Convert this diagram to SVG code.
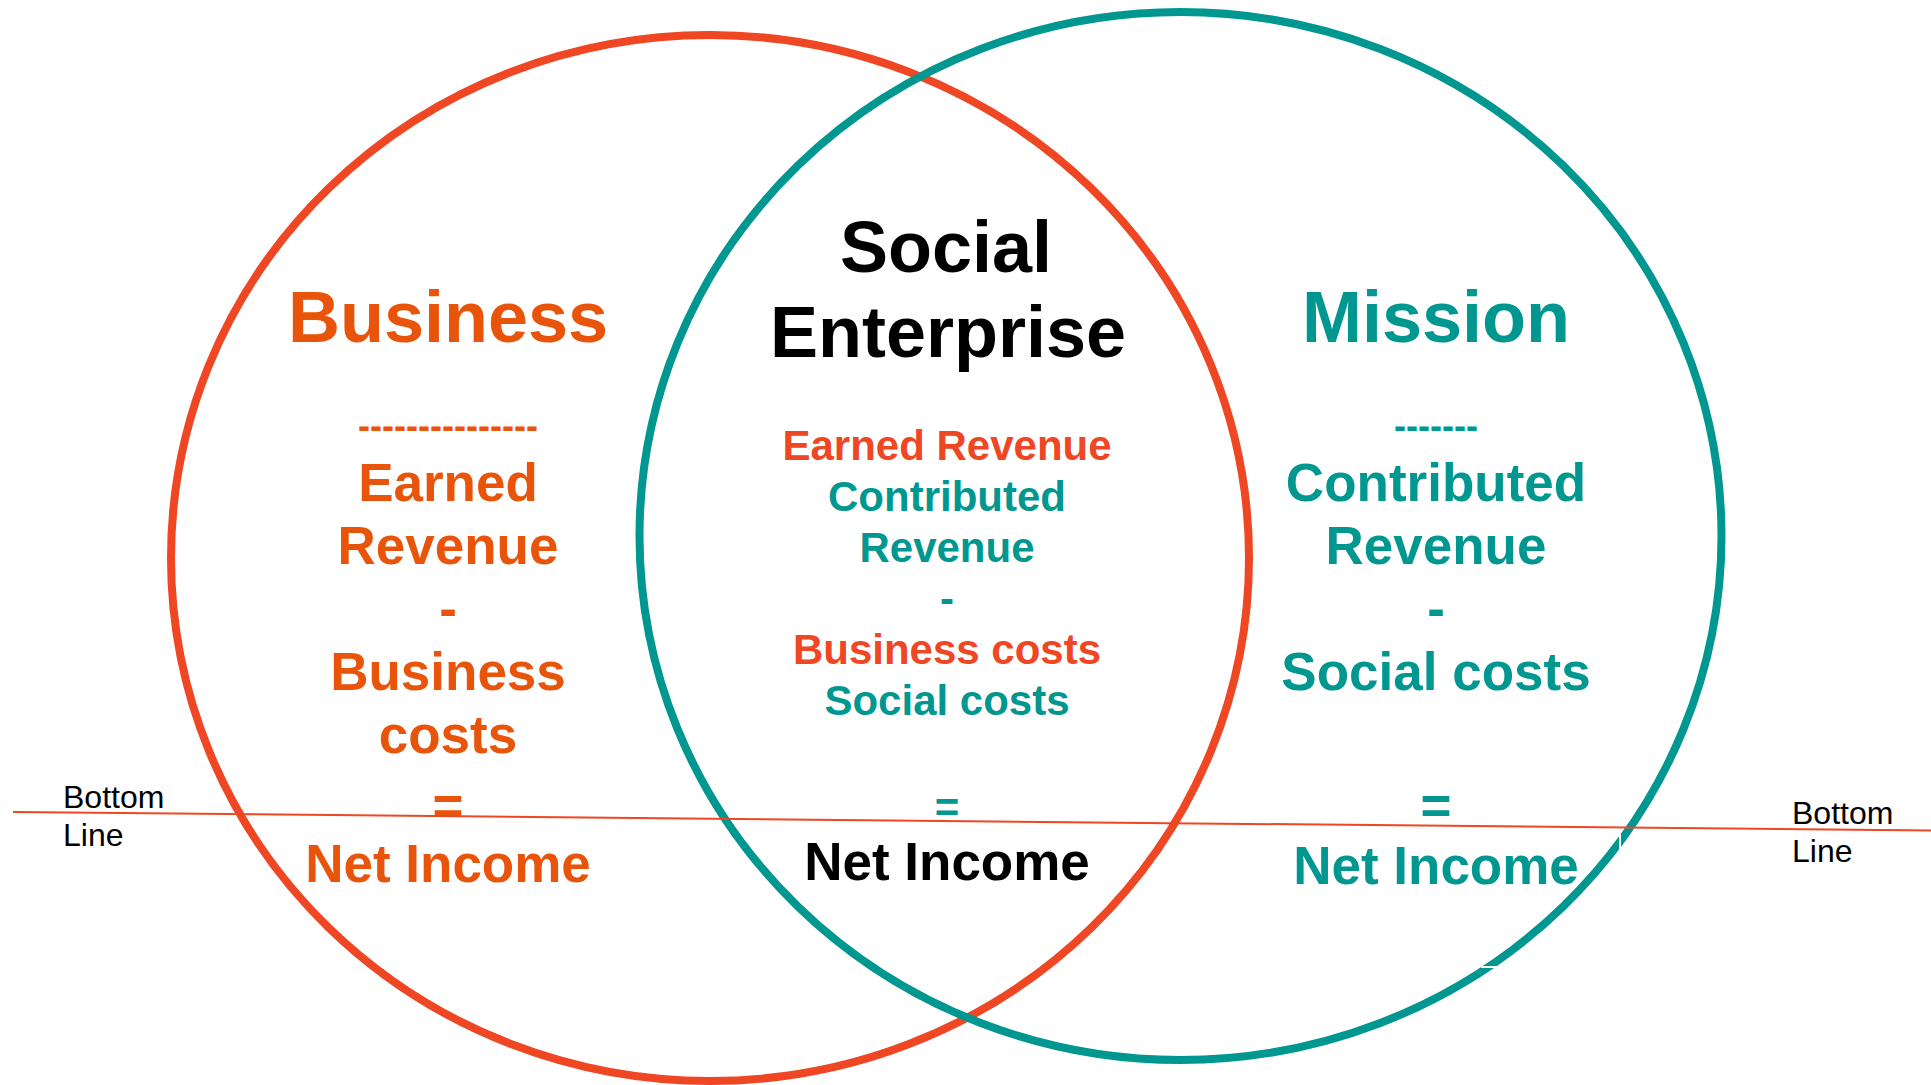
<svg xmlns="http://www.w3.org/2000/svg" width="1931" height="1085" viewBox="0 0 1931 1085">
  <style>
    text { font-family: "Liberation Sans", Arial, sans-serif; text-anchor: middle; }
    .title { font-size: 72px; font-weight: bold; }
    .big { font-size: 53px; font-weight: bold; }
    .mid { font-size: 42px; font-weight: bold; }
    .dash { font-size: 36px; font-weight: bold; }
    .note { font-size: 32px; text-anchor: start; fill: #000; }
    .orange { fill: #E8540A; }
    .red { fill: #EF4623; }
    .teal { fill: #009790; }
    .black { fill: #000; }
    .ring { fill: none; stroke-width: 8; }
  </style>
  <rect width="1931" height="1085" fill="#fff"/>

  <!-- Business circle and its equation -->
  <g id="business">
    <ellipse class="ring" cx="710" cy="558" rx="539" ry="523" stroke="#EF4623"/>
    <text class="title orange" x="448" y="342">Business</text>
    <text class="dash orange" x="448" y="438">---------------</text>
    <text class="big orange" x="448" y="501">Earned</text>
    <text class="big orange" x="448" y="564">Revenue</text>
    <text class="big orange" x="448" y="627">-</text>
    <text class="big orange" x="448" y="690">Business</text>
    <text class="big orange" x="448" y="753">costs</text>
    <text class="big orange" x="448" y="824">=</text>
    <text class="big orange" x="448" y="882">Net Income</text>
  </g>

  <!-- Mission circle and its equation -->
  <g id="mission">
    <ellipse class="ring" cx="1180.5" cy="536" rx="541" ry="524" stroke="#009790"/>
    <!-- small breaks in the ring -->
    <line x1="1620" y1="834" x2="1620" y2="850" stroke="#fff" stroke-width="2"/>
    <line x1="1481" y1="967" x2="1497" y2="967" stroke="#fff" stroke-width="2"/>
    <text class="title teal" x="1436" y="342">Mission</text>
    <text class="dash teal" x="1436" y="438">-------</text>
    <text class="big teal" x="1436" y="501">Contributed</text>
    <text class="big teal" x="1436" y="564">Revenue</text>
    <text class="big teal" x="1436" y="627">-</text>
    <text class="big teal" x="1436" y="690">Social costs</text>
    <text class="big teal" x="1436" y="824">=</text>
    <text class="big teal" x="1436" y="884">Net Income</text>
  </g>

  <!-- Overlap: social enterprise -->
  <g id="enterprise">
    <text class="title black" x="946" y="272">Social</text>
    <text class="title black" x="948" y="357">Enterprise</text>
    <text class="mid red" x="947" y="460">Earned Revenue</text>
    <text class="mid teal" x="947" y="511">Contributed</text>
    <text class="mid teal" x="947" y="562">Revenue</text>
    <text class="mid teal" x="947" y="613">-</text>
    <text class="mid red" x="947" y="664">Business costs</text>
    <text class="mid teal" x="947" y="715">Social costs</text>
    <text class="mid teal" x="947" y="822">=</text>
    <text class="big black" x="947" y="880">Net Income</text>
  </g>

  <!-- Bottom line across the diagram -->
  <g id="connectors">
    <line x1="13" y1="812" x2="1931" y2="830.5" stroke="#EF4623" stroke-width="2"/>
  </g>
  <g id="bottom-line-left">
    <text class="note" x="63" y="808">Bottom</text>
    <text class="note" x="63" y="846">Line</text>
  </g>
  <g id="bottom-line-right">
    <text class="note" x="1792" y="824">Bottom</text>
    <text class="note" x="1792" y="862">Line</text>
  </g>
</svg>
